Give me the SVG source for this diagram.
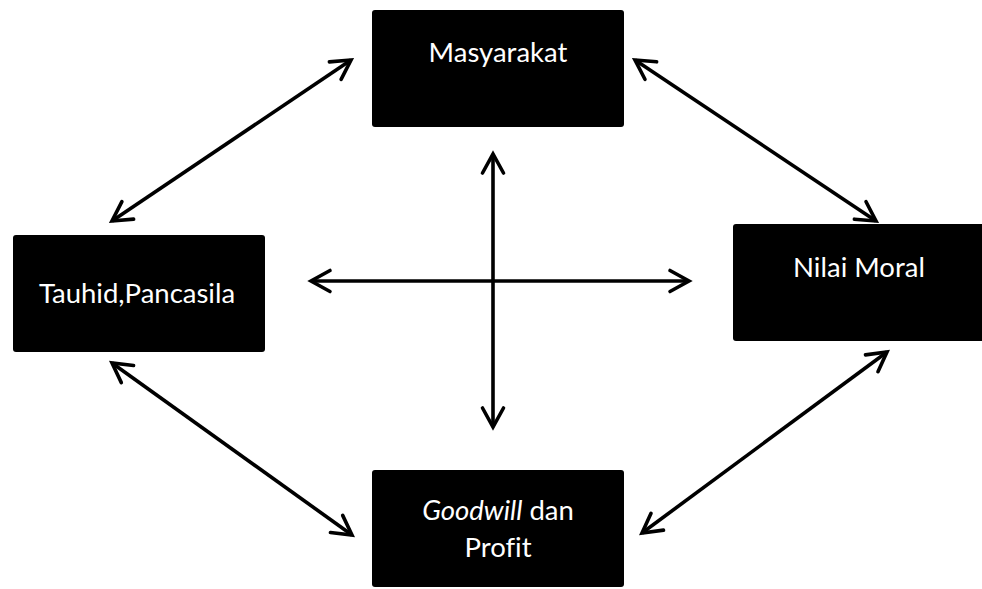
<svg xmlns="http://www.w3.org/2000/svg" width="982" height="589" viewBox="0 0 982 589">
<style>
.box{fill:#000;}
.lbl{fill:#fff;font-family:Lato,"Liberation Sans",sans-serif;font-size:27.5px;text-anchor:middle;font-variant-ligatures:none;}
.con{stroke:#000;stroke-width:3.6;fill:none;marker-start:url(#ah);marker-end:url(#ah);}
</style>
<defs>
<marker id="ah" markerUnits="userSpaceOnUse" viewBox="-24 -14 28 28" markerWidth="28" markerHeight="28" refX="0" refY="0" orient="auto-start-reverse" overflow="visible">
<path d="M-19,-10.5 L0,0 L-19,10.5" fill="none" stroke="#000" stroke-width="3.6" stroke-linecap="round" stroke-linejoin="miter"/>
</marker>
</defs>
<rect width="982" height="589" fill="#fff"/>
<g id="connectors">
<line class="con" x1="112" y1="221" x2="351" y2="60"/>
<line class="con" x1="635" y1="60" x2="876" y2="221"/>
<line class="con" x1="112" y1="363" x2="352" y2="535"/>
<line class="con" x1="642" y1="533" x2="887" y2="352"/>
<line class="con" x1="493" y1="154" x2="493" y2="427"/>
<line class="con" x1="311" y1="281" x2="689" y2="281"/>
</g>
<g id="masyarakat">
<rect class="box" x="372" y="10" width="252" height="117" rx="3"/>
<text class="lbl" x="498" y="62">Masyarakat</text>
</g>
<g id="tauhid">
<rect class="box" x="13" y="235" width="252" height="117" rx="3"/>
<text class="lbl" x="137" y="303">Tauhid,Pancasila</text>
</g>
<g id="nilai">
<rect class="box" x="733" y="224" width="252" height="117" rx="3"/>
<text class="lbl" x="859" y="277">Nilai Moral</text>
</g>
<g id="goodwill">
<rect class="box" x="372" y="470" width="252" height="117" rx="3"/>
<text class="lbl" x="498" y="520"><tspan font-style="italic">Goodwill</tspan> dan</text>
<text class="lbl" x="498" y="557">Profit</text>
</g>
</svg>
